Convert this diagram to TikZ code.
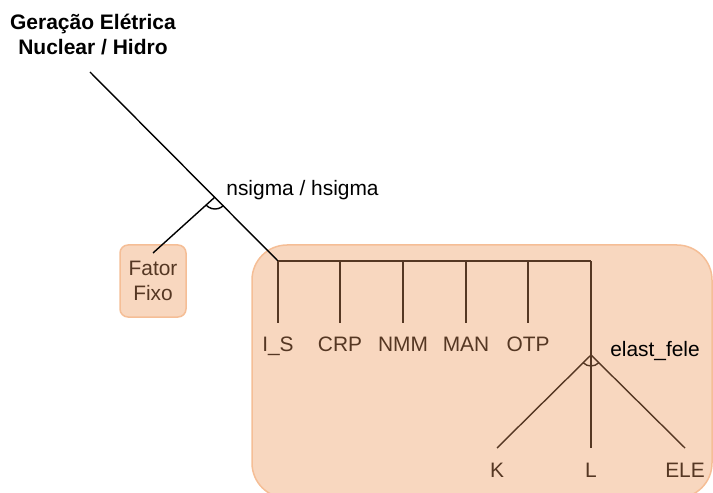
\documentclass[tikz,border=0pt]{standalone}
\usepackage{fontspec}
\setmainfont{Liberation Sans}
\definecolor{peach}{RGB}{248,215,191}
\definecolor{peachline}{RGB}{245,190,150}
\definecolor{brn}{RGB}{85,55,35}
\begin{document}
\begin{tikzpicture}[x=1bp,y=-1bp,
  txt/.style={font=\fontsize{20.9bp}{24.6bp}\selectfont, inner sep=0pt},
  lbl/.style={txt, anchor=base},
  blk/.style={line width=1.4bp, black},
  brl/.style={line width=1.4bp, brn},
  box/.style={fill=peach, draw=peachline, line width=1.5bp}]
\useasboundingbox (0,0) rectangle (713,493);
% container
\draw[box, rounded corners=35bp] (252,245) rectangle (712,498);
% title and Fator Fixo
\node[txt, font=\fontsize{21bp}{24.6bp}\selectfont\bfseries, align=center] (title) at (93,34.5) {Geração Elétrica\\Nuclear / Hidro};
\node[box, txt, text=brn, align=center, rounded corners=8bp, minimum width=66bp, minimum height=72bp] (fator) at (153,281) {Fator\\Fixo};
% coordinates
\coordinate (gtop) at (90,72);
\coordinate (jn) at (215,197);
\coordinate (fend) at (153,253);
\coordinate (bus0) at (278,261);
\coordinate (bus1) at (340,261);
\coordinate (bus2) at (403,261);
\coordinate (bus3) at (466,261);
\coordinate (bus4) at (528,261);
\coordinate (bus5) at (591,261);
\coordinate (e0) at (278,323);
\coordinate (e1) at (340,323);
\coordinate (e2) at (403,323);
\coordinate (e3) at (466,323);
\coordinate (e4) at (528,323);
\coordinate (ej) at (591,355);
\coordinate (kend) at (497,448);
\coordinate (lend) at (591,448);
\coordinate (eend) at (685,448);
% top connectors
\draw[blk] (gtop) -- (bus0);
\draw[blk] (jn) -- (fend);
\draw[blk] (jn) ++(45:12) arc[start angle=45, end angle=138, radius=12];
% bus
\draw[brl] (bus0) -- (bus5);
\draw[brl] (bus0) -- (e0);
\draw[brl] (bus1) -- (e1);
\draw[brl] (bus2) -- (e2);
\draw[brl] (bus3) -- (e3);
\draw[brl] (bus4) -- (e4);
\draw[brl] (bus5) -- (ej);
\draw[brl] (ej) -- (kend);
\draw[brl] (ej) -- (lend);
\draw[brl] (ej) -- (eend);
\draw[brl] (ej) ++(45:11) arc[start angle=45, end angle=135, radius=11];
% labels
\node[lbl] (nsig) at (302.5,196) {nsigma / hsigma};
\node[lbl, text=brn] (is) at (278,351) {I\_S};
\node[lbl, text=brn] (crp) at (340,351) {CRP};
\node[lbl, text=brn] (nmm) at (403,351) {NMM};
\node[lbl, text=brn] (man) at (466,351) {MAN};
\node[lbl, text=brn] (otp) at (528,351) {OTP};
\node[lbl] (ef) at (655,356) {elast\_fele};
\node[lbl, text=brn] (k) at (497,477) {K};
\node[lbl, text=brn] (l) at (591,477) {L};
\node[lbl, text=brn] (ele) at (685,477) {ELE};
\end{tikzpicture}
\end{document}
